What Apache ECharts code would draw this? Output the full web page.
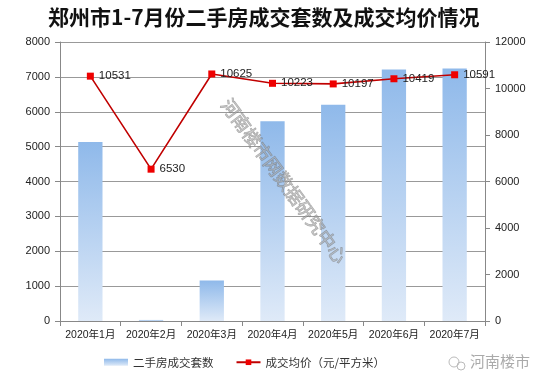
<!DOCTYPE html>
<html><head><meta charset="utf-8">
<script src="https://cdn.jsdelivr.net/npm/echarts@6/dist/echarts.min.js"></script>
<style>html,body{margin:0;padding:0;background:#fff}#c{width:550px;height:381px}</style>
</head><body><div id="c"></div>
<script>
var categories = ['2020年1月','2020年2月','2020年3月','2020年4月','2020年5月','2020年6月','2020年7月'];
var dealCounts = [5130, 30, 1160, 5730, 6200, 7210, 7240];
var avgPrices = [10531, 6530, 10625, 10223, 10197, 10419, 10591];
var leftTicks = {min: 0, max: 8000, interval: 1000};
var rightTicks = {min: 0, max: 12000, interval: 2000};
var seriesNames = ['二手房成交套数', '成交均价（元/平方米）'];
var titleText = '郑州市1-7月份二手房成交套数及成交均价情况';

var FONT = '"Liberation Sans","Noto Sans CJK SC",sans-serif';
var plain = function (v) { return String(v); };
var chart = echarts.init(document.getElementById('c'));
chart.setOption({
  animation: false,
  backgroundColor: '#fff',
  title: {text: titleText, left: 43, top: 2,
    textStyle: {fontSize: 21, fontWeight: 'bold', color: '#111', fontFamily: '"Noto Sans CJK SC",sans-serif'}},
  grid: {left: 60, right: 65, top: 42, bottom: 60},
  legend: {bottom: 8, left: 99, itemGap: 22, itemWidth: 24, itemHeight: 7,
    textStyle: {fontSize: 11.5, color: '#333', fontFamily: '"Noto Sans CJK SC",sans-serif'},
    data: [{name: seriesNames[0], icon: 'rect'}, {name: seriesNames[1]}]},
  xAxis: {type: 'category', data: categories,
    axisLine: {lineStyle: {color: '#888'}},
    axisTick: {show: true, lineStyle: {color: '#888'}, length: 5},
    axisLabel: {interval: 0, color: '#222', fontSize: 10.5, margin: 9, fontFamily: FONT}},
  yAxis: [
    {type: 'value', min: leftTicks.min, max: leftTicks.max, interval: leftTicks.interval,
      axisLine: {show: true, lineStyle: {color: '#888'}},
      axisTick: {show: true, length: 5, lineStyle: {color: '#888'}},
      axisLabel: {color: '#222', fontSize: 11, margin: 10, fontFamily: FONT, formatter: plain},
      splitLine: {lineStyle: {color: '#999', width: 1}}},
    {type: 'value', min: rightTicks.min, max: rightTicks.max, interval: rightTicks.interval,
      axisLine: {show: true, lineStyle: {color: '#888'}},
      axisTick: {show: true, length: 5, lineStyle: {color: '#888'}},
      axisLabel: {color: '#222', fontSize: 11, margin: 10, fontFamily: FONT, formatter: plain},
      splitLine: {show: false}}
  ],
  series: [
    {name: seriesNames[0], type: 'bar', data: dealCounts, barWidth: '40%', yAxisIndex: 0,
      itemStyle: {color: new echarts.graphic.LinearGradient(0, 0, 0, 1, [
        {offset: 0, color: '#8fb9ea'}, {offset: 1, color: '#dfeaf8'}])}},
    {name: seriesNames[1], type: 'line', data: avgPrices, yAxisIndex: 1,
      symbol: 'rect', symbolSize: 7,
      lineStyle: {color: '#c00000', width: 1.6},
      itemStyle: {color: '#ee0000'},
      label: {show: true, position: 'right', distance: 5, color: '#222', fontSize: 11.5, fontFamily: FONT}}
  ],
  graphic: [
    {type: 'text', x: 284, y: 181, rotation: -0.94, z: 100,
      style: {text: '河南楼市网数据研究中心', fill: 'rgba(175,175,175,0.55)', font: '18px "Noto Sans CJK SC"',
        textAlign: 'center', textVerticalAlign: 'middle', stroke: 'rgba(90,90,90,0.5)', lineWidth: 0.8}},
    {type: 'text', left: 470, top: 354, z: 100,
      style: {text: '河南楼市', fill: '#aaa', font: '15px "Noto Sans CJK SC"'}},
    {type: 'circle', shape: {cx: 454, cy: 362, r: 5}, style: {fill: 'none', stroke: '#bbb', lineWidth: 1}},
    {type: 'circle', shape: {cx: 461, cy: 366, r: 4}, style: {fill: 'none', stroke: '#bbb', lineWidth: 1}}
  ]
});
</script></body></html>
